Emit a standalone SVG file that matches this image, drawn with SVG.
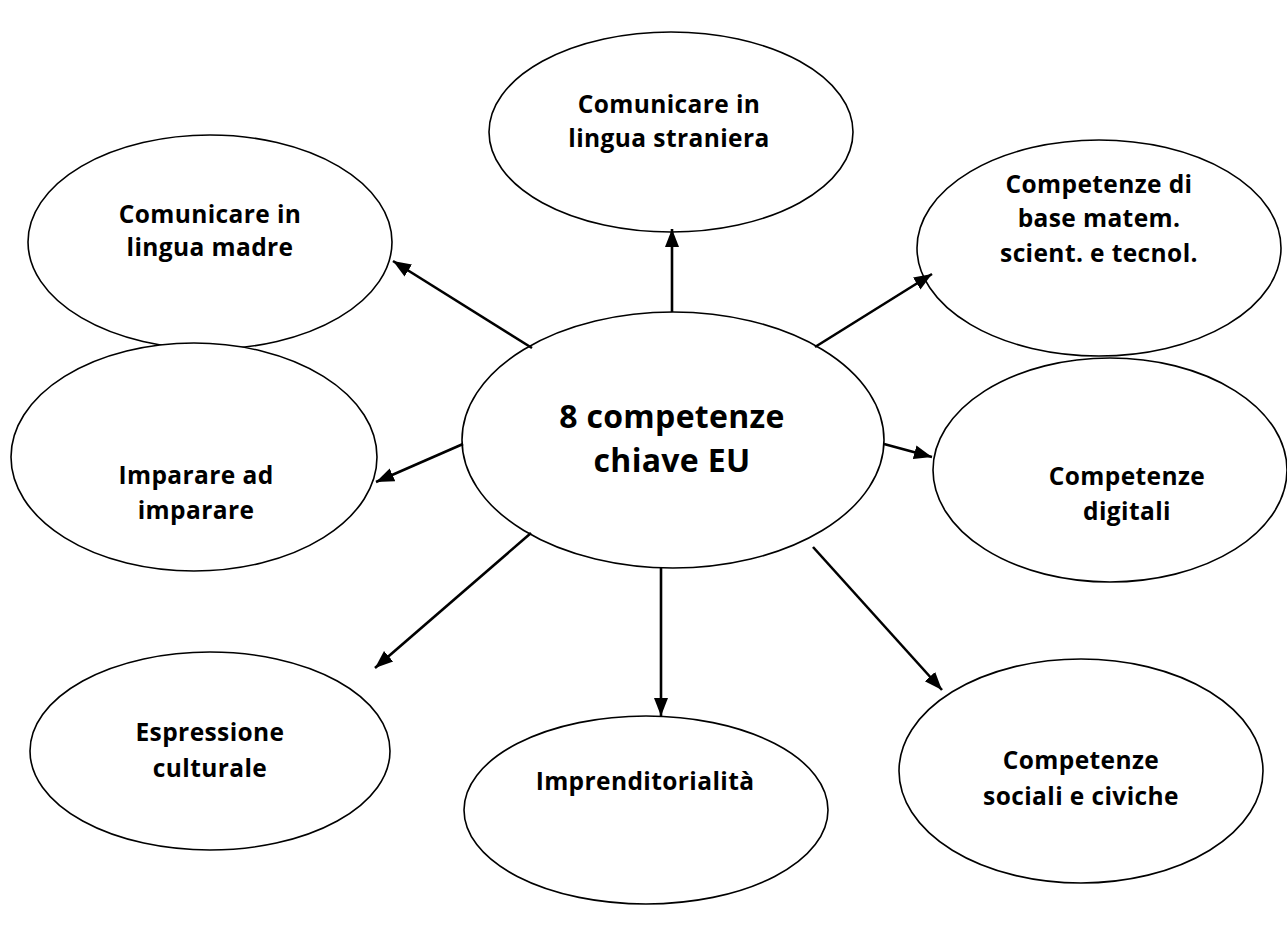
<svg xmlns="http://www.w3.org/2000/svg" width="1287" height="928" viewBox="0 0 1287 928">
<style>
  .node { fill: #ffffff; stroke: #000000; stroke-width: 1.6; }
  .lbl { font-family: "Open Sans", "Liberation Sans", sans-serif; font-weight: bold; font-size: 24.5px; letter-spacing: 0.4px; fill: #000000; text-anchor: middle; }
  .big { font-size: 32px; letter-spacing: 0.3px; }
  .conn { stroke: #000000; stroke-width: 2.6; fill: none; marker-end: url(#arrow); }
</style>
<defs>
  <marker id="arrow" markerUnits="userSpaceOnUse" markerWidth="20" markerHeight="16" refX="18" refY="8" orient="auto">
    <path d="M0,1 L18,8 L0,15 Z" fill="#000000"/>
  </marker>
</defs>
<rect width="1287" height="928" fill="#ffffff"/>
<g id="center">
  <ellipse class="node" cx="673" cy="440" rx="211" ry="128"/>
  <text class="lbl big" x="672" y="428">8 competenze</text>
  <text class="lbl big" x="672" y="472">chiave EU</text>
</g>
<g id="lingua-straniera">
  <ellipse class="node" cx="671" cy="132" rx="182" ry="100"/>
  <text class="lbl" x="669" y="113">Comunicare in</text>
  <text class="lbl" x="669" y="147">lingua straniera</text>
</g>
<g id="lingua-madre">
  <ellipse class="node" cx="210" cy="242" rx="182" ry="107"/>
  <text class="lbl" x="210" y="223">Comunicare in</text>
  <text class="lbl" x="210" y="256">lingua madre</text>
</g>
<g id="matem">
  <ellipse class="node" cx="1099" cy="248" rx="182" ry="108"/>
  <text class="lbl" x="1099" y="193">Competenze di</text>
  <text class="lbl" x="1099" y="227">base matem.</text>
  <text class="lbl" x="1099" y="262">scient. e tecnol.</text>
</g>
<g id="imparare">
  <ellipse class="node" cx="194" cy="457" rx="183" ry="114"/>
  <text class="lbl" x="196" y="484">Imparare ad</text>
  <text class="lbl" x="196" y="519">imparare</text>
</g>
<g id="digitali">
  <ellipse class="node" cx="1110" cy="470" rx="177" ry="112"/>
  <text class="lbl" x="1127" y="485">Competenze</text>
  <text class="lbl" x="1127" y="520">digitali</text>
</g>
<g id="espressione">
  <ellipse class="node" cx="210" cy="751" rx="180" ry="99"/>
  <text class="lbl" x="210" y="741">Espressione</text>
  <text class="lbl" x="210" y="777">culturale</text>
</g>
<g id="imprenditorialita">
  <ellipse class="node" cx="646" cy="810" rx="182" ry="94"/>
  <text class="lbl" x="645" y="790">Imprenditorialità</text>
</g>
<g id="sociali">
  <ellipse class="node" cx="1081" cy="771" rx="182" ry="112"/>
  <text class="lbl" x="1081" y="769">Competenze</text>
  <text class="lbl" x="1081" y="805">sociali e civiche</text>
</g>
<g id="connectors">
  <line class="conn" x1="532" y1="348" x2="393" y2="261"/>
  <line class="conn" x1="672" y1="312" x2="672" y2="229"/>
  <line class="conn" x1="815" y1="347" x2="932" y2="274"/>
  <line class="conn" x1="463" y1="444" x2="376" y2="482"/>
  <line class="conn" x1="884" y1="444" x2="932" y2="457"/>
  <line class="conn" x1="531" y1="533" x2="375" y2="668"/>
  <line class="conn" x1="661" y1="568" x2="661" y2="716"/>
  <line class="conn" x1="813" y1="547" x2="942" y2="690"/>
</g>
</svg>
